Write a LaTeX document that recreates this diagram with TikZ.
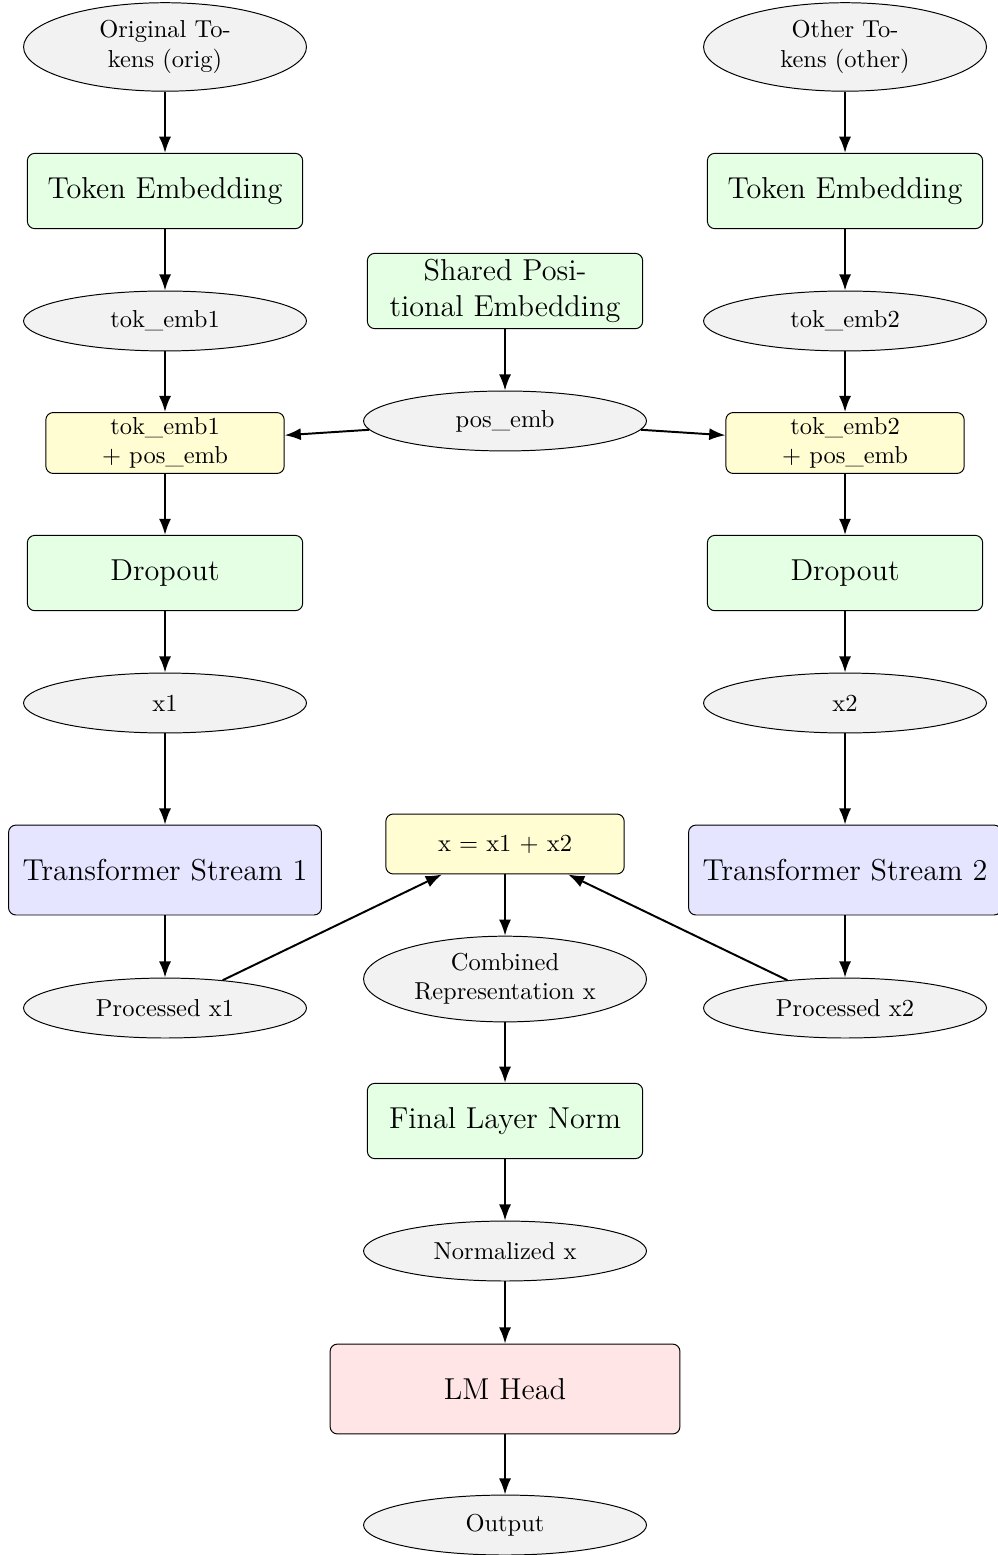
\documentclass[tikz,border=0pt]{standalone}
\usetikzlibrary{arrows.meta,shapes.geometric}

\tikzset{
  data/.style={ellipse,draw,fill=gray!10,minimum width=4.06cm,minimum height=0.86cm,inner sep=1.5pt,align=center},
  layer/.style={rectangle,draw,rounded corners=3pt,fill=green!10,minimum width=3.95cm,minimum height=1.08cm,inner sep=2pt,font=\fontsize{12.35}{14.5}\selectfont,align=center},
  sumbox/.style={rectangle,draw,rounded corners=3pt,fill=yellow!18,minimum width=3.42cm,minimum height=0.86cm,inner sep=2pt,align=center},
  stream/.style={layer,fill=blue!10,minimum width=4.49cm,minimum height=1.29cm},
  head/.style={layer,fill=red!10,minimum width=5.02cm,minimum height=1.29cm},
  flow/.style={-{Latex},thick},
}

\begin{document}
\begin{tikzpicture}
  \useasboundingbox (0,0) rectangle (14.321,-22.314);
  % left stream (orig)
  \node[data,minimum height=1.27cm] (orig) at (2.368,-0.674) {Original To-\\kens (orig)};
  \node[layer] (temb1) at (2.368,-2.741) {Token Embedding};
  \node[data] (tok1) at (2.368,-4.606) {tok\_emb1};
  \node[sumbox] (add1) at (2.368,-6.357) {tok\_emb1\\+ pos\_emb};
  \node[layer] (drop1) at (2.368,-8.223) {Dropout};
  \node[data] (x1) at (2.368,-10.088) {x1};
  \node[stream] (tf1) at (2.368,-12.485) {Transformer Stream 1};
  \node[data] (proc1) at (2.368,-14.465) {Processed x1};
  % right stream (other)
  \node[data,minimum height=1.27cm] (other) at (12.126,-0.674) {Other To-\\kens (other)};
  \node[layer] (temb2) at (12.126,-2.741) {Token Embedding};
  \node[data] (tok2) at (12.126,-4.606) {tok\_emb2};
  \node[sumbox] (add2) at (12.126,-6.357) {tok\_emb2\\+ pos\_emb};
  \node[layer] (drop2) at (12.126,-8.223) {Dropout};
  \node[data] (x2) at (12.126,-10.088) {x2};
  \node[stream] (tf2) at (12.126,-12.485) {Transformer Stream 2};
  \node[data] (proc2) at (12.126,-14.465) {Processed x2};
  % shared part in the middle
  \node[layer] (spe) at (7.247,-4.176) {Shared Posi-\\tional Embedding};
  \node[data] (pos) at (7.247,-6.041) {pos\_emb};
  \node[sumbox] (add) at (7.247,-12.111) {x = x1 + x2};
  \node[data,minimum height=1.23cm] (comb) at (7.247,-14.049) {Combined\\Representation x};
  \node[layer] (norm) at (7.247,-16.086) {Final Layer Norm};
  \node[data] (normx) at (7.247,-17.952) {Normalized x};
  \node[head] (lm) at (7.247,-19.932) {LM Head};
  \node[data] (out) at (7.247,-21.884) {Output};
  % connectors
  \foreach \a/\b in {orig/temb1,temb1/tok1,tok1/add1,add1/drop1,drop1/x1,x1/tf1,tf1/proc1,
                     other/temb2,temb2/tok2,tok2/add2,add2/drop2,drop2/x2,x2/tf2,tf2/proc2,
                     spe/pos,pos/add1,pos/add2,proc1/add,proc2/add,
                     add/comb,comb/norm,norm/normx,normx/lm,lm/out}
    \draw[flow] (\a) -- (\b);
\end{tikzpicture}
\end{document}
